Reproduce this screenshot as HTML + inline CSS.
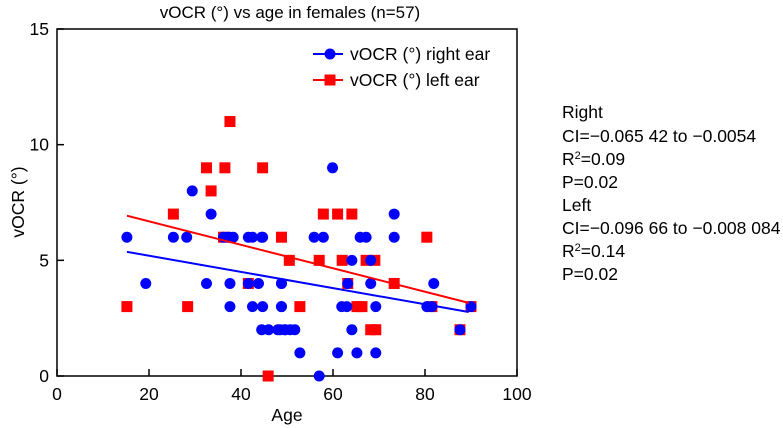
<!DOCTYPE html>
<html><head><meta charset="utf-8"><style>
html,body{margin:0;padding:0;background:#fff;}
svg{display:block;font-family:"Liberation Sans",sans-serif;}
</style></head><body>
<svg id="chart" width="783" height="428" viewBox="0 0 783 428">
<text x="290" y="18" font-size="17" text-anchor="middle">vOCR (°) vs age in females (n=57)</text>
<rect x="57" y="29" width="460" height="347" fill="none" stroke="#000" stroke-width="1.5"/>
<g id="axes"></g>
<g id="marks"></g>
<text x="287" y="421" font-size="17.5" text-anchor="middle">Age</text>
<text transform="translate(24,202) rotate(-90)" font-size="17.5" text-anchor="middle">vOCR (°)</text>
<g>
<g>
<line x1="313" y1="54" x2="343" y2="54" stroke="#0000ff" stroke-width="2"/>
<circle cx="330" cy="54" r="5.5" fill="#0000ff"/>
<text x="350" y="60" font-size="17.5">vOCR (°) right ear</text></g>
<g>
<line x1="313" y1="80" x2="343" y2="80" stroke="#ff0000" stroke-width="2"/>
<rect x="324.5" y="74.5" width="11" height="11" fill="#ff0000"/>
<text x="350" y="86" font-size="17.5">vOCR (°) left ear</text></g>
</g>
<g font-size="17.5">
<text x="562" y="118">Right</text>
<text x="562" y="142">CI=−0.065 42 to −0.0054</text>
<text x="562" y="165">R<tspan font-size="11" dy="-6">2</tspan><tspan dy="6">=0.09</tspan></text>
<text x="562" y="188">P=0.02</text>
<text x="562" y="211">Left</text>
<text x="562" y="234">CI=−0.096 66 to −0.008 084</text>
<text x="562" y="257">R<tspan font-size="11" dy="-6">2</tspan><tspan dy="6">=0.14</tspan></text>
<text x="562" y="280">P=0.02</text>
</g>
</svg>
<script>
const xTicks=[0,20,40,60,80,100];
const yTicks=[0,5,10,15];
const rightAge=[15.2,25.3,28.2,36.2,37.2,38.3,41.6,44.5,29.4,33.5,37.6,42.5,44.7,19.3,32.5,37.6,41.6,43.8,48.8,37.6,42.5,44.7,48.8,44.5,46,48,49.5,59.9,73.3,55.9,57.9,65.9,67.2,73.3,64.1,68.2,48.8,63.2,68.2,81.9,48.8,61.9,63,69.3,80.4,81.5,90,48.5,49.6,50.7,51.7,64.1,87.6,52.8,61,65.2,69.3,57];
const rightVal=[6,6,6,6,6,6,6,6,8,7,6,6,6,4,4,4,4,4,4,3,3,3,3,2,2,2,2,9,7,6,6,6,6,6,5,5,4,4,4,4,3,3,3,3,3,3,3,2,2,2,2,2,2,1,1,1,1,0];
const leftAge=[37.6,32.5,36.5,44.7,33.5,25.3,36.2,48.8,50.5,41.6,15.2,28.4,45.9,57.9,61,64.1,80.4,57,62,67.2,69.1,63.2,73.3,52.8,65.2,66.3,81.5,90,68.2,69.3,87.6];
const leftVal=[11,9,9,9,8,7,6,6,5,4,3,3,0,7,7,7,6,5,5,5,5,4,4,3,3,3,3,3,2,2,2];
const rightFit=[5.90,-0.035];
const leftFit=[7.70,-0.0507];
const fitRange=[15.2,89.5];
const NS='http://www.w3.org/2000/svg';
const X=v=>57+v*4.6, Y=v=>376-v*23.133;
function mk(tag,attrs,parent){const e=document.createElementNS(NS,tag);for(const k in attrs)e.setAttribute(k,attrs[k]);parent.appendChild(e);return e;}
const axes=document.getElementById('axes'), marks=document.getElementById('marks');
xTicks.forEach(t=>{
  const l=mk('line',{x1:X(t),x2:X(t),y1:376,y2:369,stroke:'#000','stroke-width':1.5},axes);
  
  
  const tx=mk('text',{x:X(t),y:400,'font-size':17.5,'text-anchor':'middle'},axes);tx.textContent=t;
  
  
});
yTicks.forEach(t=>{
  const l=mk('line',{x1:57,x2:64,y1:Y(t),y2:Y(t),stroke:'#000','stroke-width':1.5},axes);
  
  
  const tx=mk('text',{x:49,y:Y(t)+6,'font-size':17.5,'text-anchor':'end'},axes);tx.textContent=t;
  
  
});
leftAge.forEach((a,i)=>{
  const r=mk('rect',{x:X(a)-5.5,y:Y(leftVal[i])-5.5,width:11,height:11,fill:'#ff0000'},marks);
  
  
});
rightAge.forEach((a,i)=>{
  const c=mk('circle',{cx:X(a),cy:Y(rightVal[i]),r:5.5,fill:'#0000ff'},marks);
  
  
});
[[leftFit,'#ff0000','left-ear-trendline'],[rightFit,'#0000ff','right-ear-trendline']].forEach(([f,col,name])=>{
  const l=mk('line',{x1:X(fitRange[0]),y1:Y(f[0]+f[1]*fitRange[0]),x2:X(fitRange[1]),y2:Y(f[0]+f[1]*fitRange[1]),stroke:col,'stroke-width':2},marks);
  
  
});
</script>
</body></html>
